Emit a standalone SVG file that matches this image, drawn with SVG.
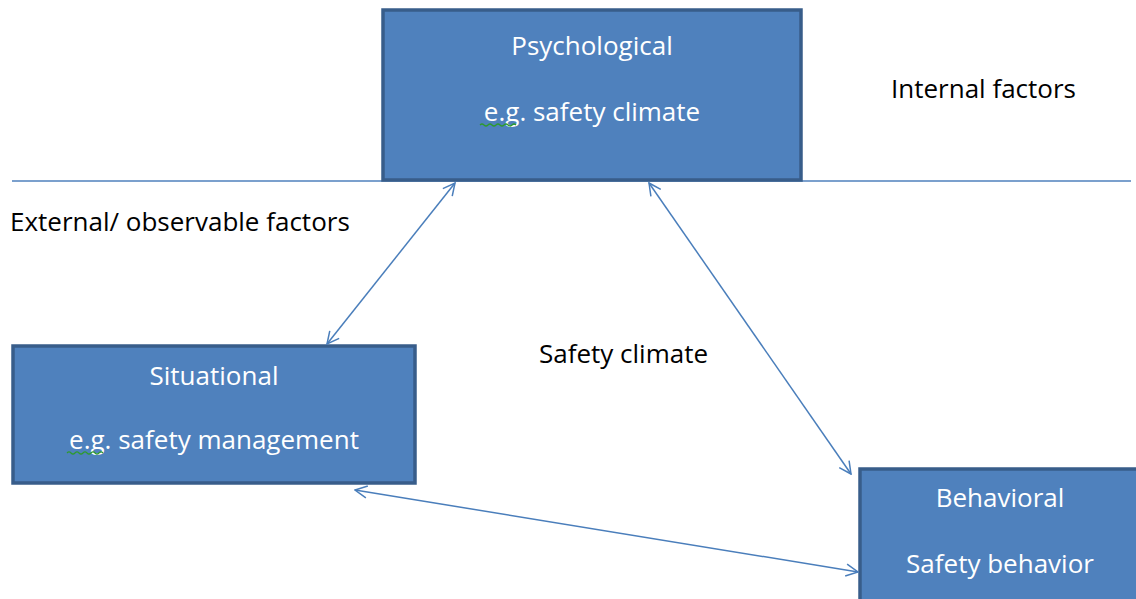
<svg xmlns="http://www.w3.org/2000/svg" width="1136" height="599" viewBox="0 0 1136 599">
<style>
.box{fill:#4F81BD;stroke:#385D8A;stroke-width:3.5}
.wt{font-family:"Open Sans",Lato,sans-serif;font-size:26px;fill:#ffffff;text-anchor:middle}
.bt{font-family:"Open Sans",Lato,sans-serif;font-size:26px;fill:#000000}
.con{stroke:#4A7EBB;stroke-width:1.5;fill:none}
.wave{stroke:#2E9A2E;stroke-width:1.2;fill:none}
</style>
<defs>
<marker id="ah" viewBox="0 0 14 14" refX="13" refY="7" markerWidth="14" markerHeight="14" markerUnits="userSpaceOnUse" orient="auto-start-reverse">
<path d="M1,1 L13,7 L1,13" fill="none" stroke="#4A7EBB" stroke-width="1.5"/>
</marker>
</defs>
<rect width="1136" height="599" fill="#ffffff"/>
<g id="divider">
<line x1="12" y1="181" x2="1131" y2="181" stroke="#4F81BD" stroke-width="1.3"/>
</g>
<g id="psychological">
<rect class="box" x="383" y="10" width="418" height="170"/>
<text class="wt" x="592" y="55">Psychological</text>
<text class="wt" x="592" y="121">e.g. safety climate</text>
<path class="wave" d="M480,125 q2,-2 4,0 t4,0 t4,0 t4,0 t4,0 t4,0 t4,0 t4,0 t4,0"/>
</g>
<g id="situational">
<rect class="box" x="13" y="346" width="402" height="137"/>
<text class="wt" x="214" y="385">Situational</text>
<text class="wt" x="214" y="449">e.g. safety management</text>
<path class="wave" d="M67,453 q2,-2 4,0 t4,0 t4,0 t4,0 t4,0 t4,0 t4,0 t4,0 t4,0"/>
</g>
<g id="behavioral">
<rect class="box" x="860" y="469" width="290" height="140"/>
<text class="wt" x="1000" y="507">Behavioral</text>
<text class="wt" x="1000" y="573">Safety behavior</text>
</g>
<g id="labels">
<text class="bt" x="891" y="98">Internal factors</text>
<text class="bt" x="10" y="231">External/ observable factors</text>
<text class="bt" x="539" y="363">Safety climate</text>
</g>
<g id="connectors">
<line class="con" x1="455" y1="183" x2="327" y2="344" marker-start="url(#ah)" marker-end="url(#ah)"/>
<line class="con" x1="649" y1="183" x2="851" y2="474" marker-start="url(#ah)" marker-end="url(#ah)"/>
<line class="con" x1="355" y1="490" x2="858" y2="572" marker-start="url(#ah)" marker-end="url(#ah)"/>
</g>
</svg>
